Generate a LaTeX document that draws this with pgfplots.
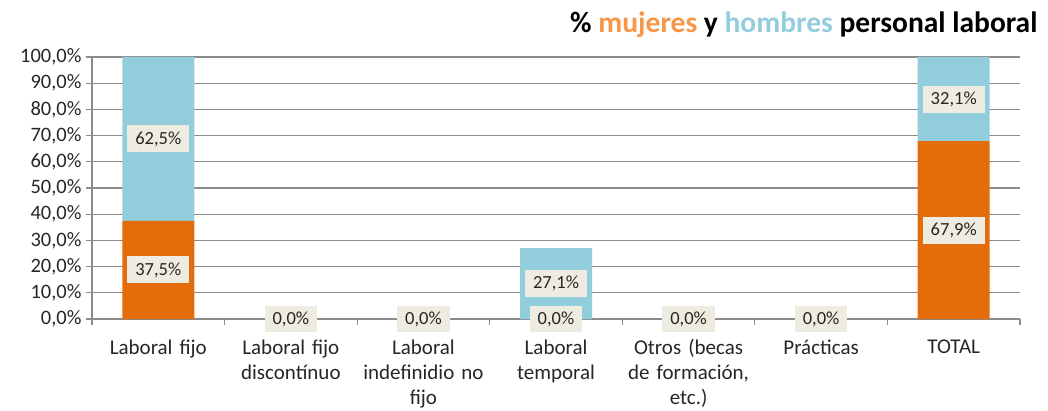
\documentclass[border=0pt]{standalone}
\usepackage{pgfplots}
\pgfplotsset{compat=1.18}
\usepackage{fontspec}
\setmainfont{Carlito}
\definecolor{mujbar}{HTML}{E46C0A}
\definecolor{hombar}{HTML}{92CDDC}
\definecolor{mujtit}{HTML}{F79646}
\definecolor{homtit}{HTML}{93CDDD}
\definecolor{lblbg}{HTML}{EEECE1}
\definecolor{gridc}{HTML}{8C8C8C}
\definecolor{txt}{HTML}{262626}
\begin{document}
\begin{tikzpicture}[x=1pt,y=1pt]
\useasboundingbox (0,0) rectangle (1048,410);
\begin{axis}[
  at={(92pt,91pt)}, anchor=south west,
  scale only axis, width=928pt, height=262pt,
  xmin=-0.5, xmax=6.5, ymin=0, ymax=100,
  ybar stacked, bar width=72pt,
  axis x line*=bottom, axis y line*=left,
  axis line style={gridc, line width=1.3pt},
  tick align=outside,
  xtick={0,...,6},
  xticklabels={Laboral fijo, {Laboral fijo\\discontínuo}, {Laboral\\indefinidio no\\fijo}, {Laboral\\temporal}, {Otros (becas\\de formación,\\etc.)}, Prácticas, TOTAL},
  major x tick style={draw=none},
  minor xtick={-0.5,0.5,...,6.5},
  minor x tick style={gridc, line width=1.2pt},
  minor tick length=6pt,
  major tick length=6pt,
  y tick style={gridc, line width=1.2pt},
  ytick={0,10,...,100},
  ymajorgrids, major grid style={gridc, line width=1.3pt},
  yticklabel={\pgfmathprintnumber[fixed, fixed zerofill, precision=1, use comma]{\tick}\%},
  /pgf/number format/assume math mode=true,
  yticklabel style={font=\fontsize{20.5}{22}\selectfont, text=txt, xshift=-1pt},
  xticklabel style={font=\fontsize{21}{25}\selectfont, text=txt, align=center, text width=140pt, yshift=-11pt},
  clip=false,
]
\addplot[fill=mujbar, draw=none] coordinates {(0,37.5) (1,0) (2,0) (3,0) (4,0) (5,0) (6,67.9)};
\addplot[fill=hombar, draw=none] coordinates {(0,62.5) (1,0) (2,0) (3,27.1) (4,0) (5,0) (6,32.1)};
\end{axis}
\begin{axis}[
  at={(92pt,91pt)}, anchor=south west,
  scale only axis, width=928pt, height=262pt,
  xmin=-0.5, xmax=6.5, ymin=0, ymax=100,
  hide axis, clip=false,
  point meta=explicit,
  nodes near coords={\pgfmathprintnumber[fixed, fixed zerofill, precision=1, use comma]{\pgfplotspointmeta}\%},
  /pgf/number format/assume math mode=true,
  every node near coord/.append style={anchor=center, fill=lblbg, text=txt, inner xsep=8pt, inner ysep=6pt, font=\fontsize{18.5}{20}\selectfont},
]
\addplot[only marks, mark=none] coordinates {
 (0,18.75) [37.5] (0,68.75) [62.5]
 (1,0) [0] (2,0) [0] (3,0) [0] (3,13.55) [27.1]
 (4,0) [0] (5,0) [0]
 (6,33.95) [67.9] (6,83.95) [32.1]
};
\end{axis}
\node[anchor=base east, font=\fontsize{29.5}{31}\selectfont\bfseries, text=black] at (1041,377)
  {\% {\color{mujtit}mujeres} y {\color{homtit}hombres} personal laboral};
\end{tikzpicture}
\end{document}
